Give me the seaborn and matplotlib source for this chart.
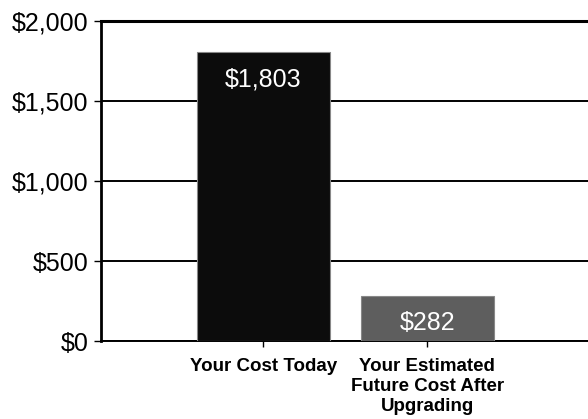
import matplotlib
matplotlib.use("Agg")
import matplotlib.pyplot as plt
import seaborn as sns
import pandas as pd

# Cost comparison data
categories = ["Your Cost Today", "Your Estimated\nFuture Cost After\nUpgrading"]
costs = [1803, 282]
bar_labels = ["$1,803", "$282"]
y_ticks = [0, 500, 1000, 1500, 2000]
y_tick_labels = ["$0", "$500", "$1,000", "$1,500", "$2,000"]

df = pd.DataFrame({"category": categories, "cost": costs})

sns.set_style("white")
plt.rcParams["font.family"] = ["Liberation Sans", "DejaVu Sans"]

fig = plt.figure(figsize=(5.88, 4.19), dpi=100)
ax = fig.add_axes([0.172, 0.186, 0.828, 0.764])

sns.barplot(data=df, x="category", y="cost", hue="category",
            palette=["#0c0c0c", "#5e5e5e"], legend=False, width=0.81,
            edgecolor="#888888", linewidth=0.8, zorder=3, ax=ax)

for i, (v, lab) in enumerate(zip(costs, bar_labels)):
    ax.annotate(lab, (i, v), xytext=(0, -11), textcoords="offset points",
                ha="center", va="top", color="white", fontsize=18, zorder=4)

ax.set_xlim(-0.99, 1.98)
ax.set_ylim(0, 2000)
ax.set_yticks(y_ticks)
ax.set_yticklabels(y_tick_labels, fontsize=18)
ax.set_xticks(range(len(categories)))
ax.set_xticklabels(categories, fontsize=13.5, fontweight="bold", linespacing=1.25)
ax.set_xlabel("")
ax.set_ylabel("")

ax.yaxis.grid(True, color="black", linewidth=1.4, zorder=1)
ax.set_axisbelow(True)
ax.tick_params(axis="y", left=True, length=5, width=1, pad=4, colors="black")
ax.tick_params(axis="x", bottom=True, length=4, width=1, pad=8, colors="black")

for side in ["left", "bottom", "top"]:
    ax.spines[side].set_visible(True)
    ax.spines[side].set_color("black")
ax.spines["left"].set_linewidth(2)
ax.spines["top"].set_linewidth(2.2)
ax.spines["bottom"].set_linewidth(1.4)
ax.spines["right"].set_visible(False)

fig.savefig("out.png", dpi=100)
